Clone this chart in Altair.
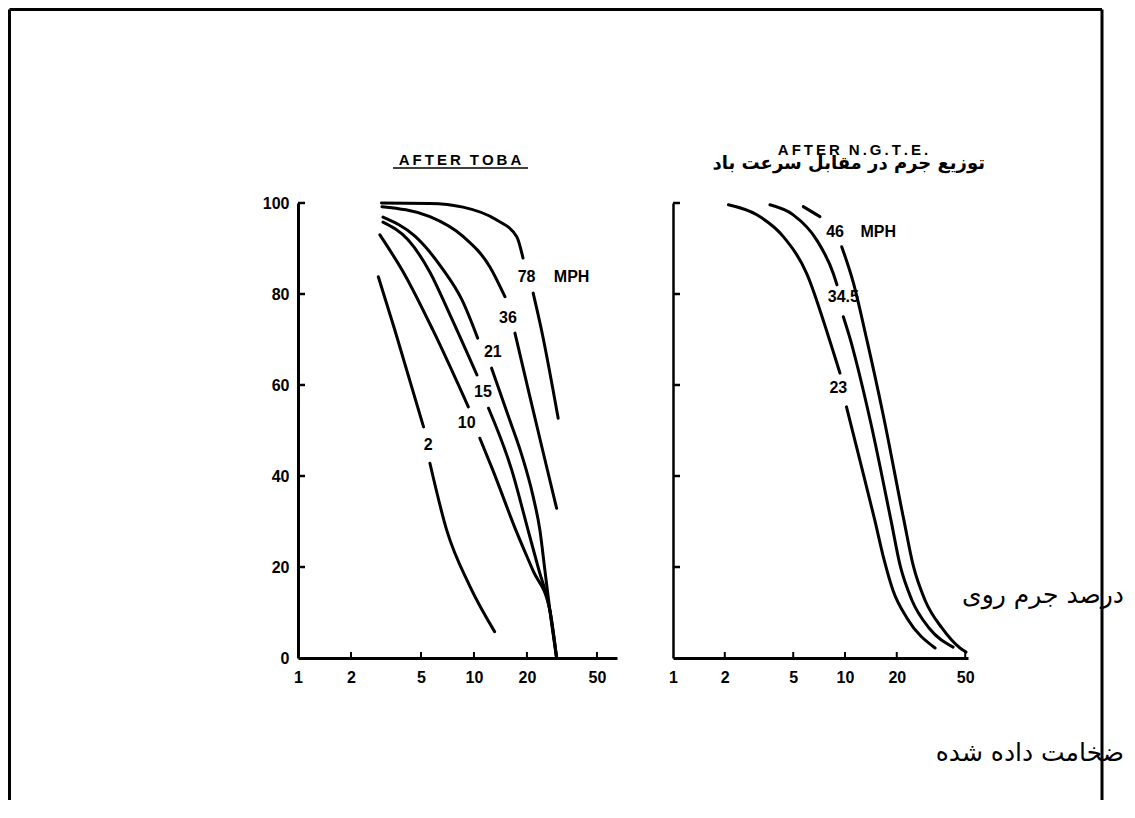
import altair as alt
import pandas as pd

# ---------------- data: AFTER TOBA (left panel) ----------------
toba_78a_speed = [2.98, 5.62, 8.66, 13.4, 17.5, 19.0]
toba_78a_pct = [100.0, 99.9, 99.1, 96.3, 92.6, 87.9]
toba_78b_speed = [21.7, 24.2, 30.1]
toba_78b_pct = [80.2, 72.1, 52.7]

toba_36a_speed = [3.0, 5.62, 8.7, 12.3, 15.0]
toba_36a_pct = [99.2, 97.0, 92.6, 86.0, 79.4]
toba_36b_speed = [17.1, 20.8, 24.8, 29.5]
toba_36b_pct = [71.4, 57.4, 45.0, 32.9]

toba_21a_speed = [3.04, 4.62, 6.58, 8.55, 10.5]
toba_21a_pct = [96.9, 92.7, 85.7, 78.7, 70.3]
toba_21b_speed = [12.6, 15.6, 18.7, 21.6, 23.7, 25.3, 27.0, 29.5]
toba_21b_pct = [63.7, 53.4, 44.6, 35.8, 28.1, 19.3, 10.5, 0.0]

toba_15a_speed = [3.04, 4.22, 5.62, 7.31, 10.4]
toba_15a_pct = [95.8, 91.9, 84.8, 75.4, 62.2]
toba_15b_speed = [12.1, 16.4, 20.3, 23.4, 27.0, 29.5]
toba_15b_pct = [54.9, 41.3, 28.1, 19.3, 10.5, 0.0]

toba_10a_speed = [2.92, 4.05, 5.84, 9.29]
toba_10a_pct = [93.0, 84.2, 72.1, 55.2]
toba_10b_speed = [10.8, 12.8, 17.3, 21.6, 27.0, 29.5]
toba_10b_pct = [48.3, 41.3, 28.1, 19.3, 10.5, 0.0]

toba_2a_speed = [2.86, 3.55, 5.17]
toba_2a_pct = [83.8, 72.1, 50.8]
toba_2b_speed = [5.62, 7.0, 9.5, 13.1]
toba_2b_pct = [42.8, 28.1, 15.7, 5.8]

toba_label_text = ["78", "MPH", "36", "21", "15", "10", "2"]
toba_label_speed = [19.9, 35.9, 15.6, 12.8, 11.25, 9.09, 5.50]
toba_label_pct = [83.7, 83.7, 74.7, 67.3, 58.5, 51.6, 46.8]

# ---------------- data: AFTER N.G.T.E. (right panel) ----------------
ngte_23a_speed = [2.10, 3.07, 4.38, 5.99, 7.96, 9.35]
ngte_23a_pct = [99.6, 97.4, 92.6, 84.5, 71.0, 62.6]
ngte_23b_speed = [10.2, 12.2, 14.9, 16.9, 19.0, 22.9, 33.4]
ngte_23b_pct = [55.2, 43.5, 30.3, 21.5, 14.9, 8.8, 2.2]

ngte_345a_speed = [3.66, 5.0, 6.84, 8.55, 8.98]
ngte_345a_pct = [99.6, 97.4, 91.9, 84.5, 82.0]
ngte_345b_speed = [9.78, 10.55, 14.0, 18.5, 20.9, 24.5, 30.8, 42.5]
ngte_345b_pct = [75.0, 71.0, 52.3, 30.3, 20.4, 12.7, 6.6, 2.4]

ngte_46a_speed = [5.72, 7.15]
ngte_46a_pct = [99.2, 97.0]
ngte_46b_speed = [9.57, 11.2, 13.4, 16.6, 22.0, 24.9, 29.2, 36.6, 46.6, 50.5]
ngte_46b_pct = [90.4, 82.4, 69.9, 53.8, 30.3, 20.4, 12.7, 6.6, 2.2, 1.3]

ngte_label_text = ["46", "MPH", "34.5", "23"]
ngte_label_speed = [8.75, 15.6, 9.78, 9.14]
ngte_label_pct = [93.7, 93.7, 79.4, 59.3]

# axis ticks
x_ticks = [1, 2, 5, 10, 20, 50]
y_ticks = [0, 20, 40, 60, 80, 100]

THIN = "\u2009"
titles_left = [THIN.join("AFTER") + THIN * 3 + THIN.join("TOBA")]
titles_right = [THIN.join("AFTER") + THIN * 3 + THIN.join("N.G.T.E.")]
title_fa = ["توزیع جرم در مقابل سرعت باد"]
note_fa_1 = ["درصد جرم روی"]
note_fa_2 = ["ضخامت داده شده"]


def segs(pairs):
    rows = []
    for name, sp, pc in pairs:
        for s, p in zip(sp, pc):
            rows.append({"seg": name, "speed": s, "pct": p})
    return pd.DataFrame(rows)


toba_df = segs([
    ("78a", toba_78a_speed, toba_78a_pct), ("78b", toba_78b_speed, toba_78b_pct),
    ("36a", toba_36a_speed, toba_36a_pct), ("36b", toba_36b_speed, toba_36b_pct),
    ("21a", toba_21a_speed, toba_21a_pct), ("21b", toba_21b_speed, toba_21b_pct),
    ("15a", toba_15a_speed, toba_15a_pct), ("15b", toba_15b_speed, toba_15b_pct),
    ("10a", toba_10a_speed, toba_10a_pct), ("10b", toba_10b_speed, toba_10b_pct),
    ("2a", toba_2a_speed, toba_2a_pct), ("2b", toba_2b_speed, toba_2b_pct),
])
ngte_df = segs([
    ("23a", ngte_23a_speed, ngte_23a_pct), ("23b", ngte_23b_speed, ngte_23b_pct),
    ("34a", ngte_345a_speed, ngte_345a_pct), ("34b", ngte_345b_speed, ngte_345b_pct),
    ("46a", ngte_46a_speed, ngte_46a_pct), ("46b", ngte_46b_speed, ngte_46b_pct),
])
toba_lab = pd.DataFrame({"label": toba_label_text, "speed": toba_label_speed, "pct": toba_label_pct})
ngte_lab = pd.DataFrame({"label": ngte_label_text, "speed": ngte_label_speed, "pct": ngte_label_pct})
ytick_df = pd.DataFrame({"pct": y_ticks[1:]})
xtick_df = pd.DataFrame({"speed": x_ticks[1:]})

FONT = "Liberation Sans"
FA_FONT = "DejaVu Sans"
W1, W2, H = 319, 295, 455


def axes(domain_max, show_y_labels, ywidth):
    xs = alt.Scale(type="log", domain=[1, domain_max])
    ys = alt.Scale(domain=[0, 100])
    xa = alt.Axis(values=x_ticks, format="d", title=None, grid=False, ticks=False,
                  labelFont=FONT, labelFontSize=16, labelFontWeight="bold", labelColor="black",
                  labelPadding=11, domainColor="black", domainWidth=3, labelFlush=False)
    ya = alt.Axis(values=y_ticks, format="d", title=None, grid=False, ticks=False,
                  labels=show_y_labels, labelFont=FONT, labelFontSize=16, labelFontWeight="bold",
                  labelColor="black", labelPadding=9, domainColor="black", domainWidth=ywidth,
                  labelFlush=False)
    return xs, ys, xa, ya


def panel(df, lab, domain_max, show_y_labels, ywidth):
    xs, ys, xa, ya = axes(domain_max, show_y_labels, ywidth)
    X = alt.X("speed:Q", scale=xs, axis=xa)
    Y = alt.Y("pct:Q", scale=ys, axis=ya)
    curves = alt.Chart(df).mark_line(color="black", strokeWidth=3, interpolate="monotone",
                                     strokeCap="round").encode(x=X, y=Y, detail="seg:N")
    labels = alt.Chart(lab).mark_text(font=FONT, fontSize=16, fontWeight="bold", color="black",
                                      align="center", baseline="middle").encode(x=X, y=Y, text="label:N")
    yt = alt.Chart(ytick_df).mark_rule(color="black", strokeWidth=2.5).encode(
        y=Y, x=alt.value(0), x2=alt.value(7))
    xt = alt.Chart(xtick_df).mark_rule(color="black", strokeWidth=2).encode(
        x=X, y=alt.value(H), y2=alt.value(H - 6))
    return [curves, labels, yt, xt]


def txt(values, x, y, size, weight="bold", align="center", font=FONT):
    return alt.Chart(pd.DataFrame({"t": values})).mark_text(
        font=font, fontSize=size, fontWeight=weight, color="black", align=align, baseline="middle"
    ).encode(text="t:N", x=alt.value(x), y=alt.value(y))


def rule(x, y, x2=None, y2=None, w=3, color="black"):
    enc = dict(x=alt.value(x), y=alt.value(y))
    if x2 is not None:
        enc["x2"] = alt.value(x2)
    if y2 is not None:
        enc["y2"] = alt.value(y2)
    return alt.Chart(pd.DataFrame({"k": [0]})).mark_rule(color=color, strokeWidth=w).encode(**enc)


# frame (relative to left plot origin)
FL, FT, FR, FB = -288.5, -193.5, 804, 597
frame = [
    rule(FL, FT, x2=FR, w=3),
    rule(FL, FT, y2=FB, w=3),
    rule(FR, FT, y2=FB, w=3),
]

left = alt.layer(
    *panel(toba_df, toba_lab, 65, True, 3),
    txt(titles_left, 162, -43, 15),
    rule(95, -35, x2=230, w=1.5),
    *frame,
).properties(width=W1, height=H)

right = alt.layer(
    *panel(ngte_df, ngte_lab, 51.9, False, 2.5),
    txt(titles_right, 180, -53, 15),
    txt(title_fa, 312, -39, 18, align="right", font=FA_FONT),
    txt(note_fa_1, 451, 392, 25, weight="normal", align="right", font=FA_FONT),
    txt(note_fa_2, 451, 550, 25, weight="normal", align="right", font=FA_FONT),
).properties(width=W2, height=H)

chart = alt.hconcat(left, right, spacing=56, bounds="flush").properties(
    padding=0, background="white"
).configure_view(stroke=None)

chart.save("out.html", embed_options={"renderer": "svg", "actions": False})
